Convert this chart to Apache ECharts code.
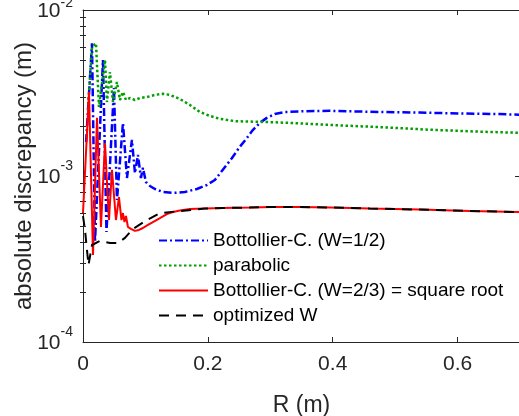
<!DOCTYPE html>
<html>
<head>
<meta charset="utf-8">
<script src="https://cdn.jsdelivr.net/npm/echarts@6/dist/echarts.min.js"></script>
<style>
html,body{margin:0;padding:0;background:#fff;}
#chart{width:519px;height:416px;}
</style>
</head>
<body>
<div id="chart"></div>
<script>
const seriesNames = ['Bottollier-C. (W=1/2)', 'parabolic', 'Bottollier-C. (W=2/3) = square root', 'optimized W'];

const rBlue = [0.005, 0.0144, 0.0192, 0.032, 0.0376, 0.0496, 0.0544, 0.064, 0.0704, 0.0784, 0.0832, 0.088, 0.0928, 0.096, 0.1008, 0.1072, 0.1152, 0.128, 0.144, 0.1632, 0.1824, 0.1984, 0.2112, 0.224, 0.2384, 0.2512, 0.2624, 0.272, 0.2832, 0.2944, 0.3072, 0.3232, 0.3472, 0.3952, 0.4752, 0.5392, 0.6032, 0.6672, 0.7];
const vBlue = [1.6e-3, 6.3e-3, 4.0e-4, 5.0e-3, 4.6e-4, 3.39e-3, 7.17e-4, 2.09e-3, 9.73e-4, 1.65e-3, 1.04e-3, 1.34e-3, 9.73e-4, 1.12e-3, 9.2e-4, 8.71e-4, 8.35e-4, 8.01e-4, 7.9e-4, 8.01e-4, 8.35e-4, 8.83e-4, 9.46e-4, 1.09e-3, 1.28e-3, 1.50e-3, 1.69e-3, 1.89e-3, 2.09e-3, 2.24e-3, 2.36e-3, 2.43e-3, 2.45e-3, 2.47e-3, 2.43e-3, 2.41e-3, 2.38e-3, 2.36e-3, 2.34e-3];

const rGreen = [0.008, 0.0144, 0.0208, 0.0256, 0.0352, 0.0384, 0.0432, 0.048, 0.0544, 0.0592, 0.064, 0.0688, 0.0752, 0.0832, 0.0912, 0.1024, 0.1152, 0.128, 0.1392, 0.1552, 0.1712, 0.1872, 0.2032, 0.2192, 0.2432, 0.2832, 0.3312, 0.3952, 0.4752, 0.5552, 0.6352, 0.7];
const vGreen = [2.5e-3, 6.0e-3, 6.3e-3, 2.61e-3, 5.0e-3, 2.79e-3, 4.23e-3, 2.79e-3, 3.68e-3, 2.87e-3, 3.21e-3, 2.87e-3, 2.95e-3, 2.87e-3, 2.95e-3, 2.99e-3, 3.08e-3, 3.13e-3, 3.08e-3, 2.91e-3, 2.68e-3, 2.43e-3, 2.30e-3, 2.21e-3, 2.14e-3, 2.12e-3, 2.09e-3, 2.03e-3, 1.97e-3, 1.90e-3, 1.85e-3, 1.82e-3];

const rRed = [0.0, 0.0096, 0.016, 0.0224, 0.0288, 0.0352, 0.0416, 0.0464, 0.0528, 0.0576, 0.0616, 0.064, 0.0664, 0.0688, 0.072, 0.0768, 0.0832, 0.0896, 0.096, 0.104, 0.112, 0.1232, 0.1344, 0.144, 0.1552, 0.1712, 0.1952, 0.224, 0.2672, 0.304, 0.3472, 0.3952, 0.4592, 0.5392, 0.6192, 0.7];
const vRed = [5.98e-4, 3.21e-3, 3.34e-4, 2.24e-3, 4.93e-4, 1.58e-3, 5.43e-4, 1.09e-3, 5.43e-4, 7.47e-4, 5.43e-4, 5.98e-4, 5.28e-4, 5.74e-4, 4.93e-4, 4.80e-4, 4.67e-4, 4.73e-4, 4.86e-4, 5.07e-4, 5.28e-4, 5.58e-4, 5.90e-4, 6.07e-4, 6.19e-4, 6.33e-4, 6.37e-4, 6.42e-4, 6.46e-4, 6.51e-4, 6.51e-4, 6.46e-4, 6.37e-4, 6.28e-4, 6.15e-4, 6.07e-4];

const rBlack = [0.0, 0.0032, 0.0064, 0.0088, 0.0144, 0.0272, 0.0432, 0.056, 0.0672, 0.08, 0.1024, 0.1232, 0.1552, 0.1952, 0.224, 0.2672, 0.304, 0.3472, 0.3952, 0.4592, 0.5392, 0.6192, 0.7];
const vBlack = [5.74e-4, 4.73e-4, 3.58e-4, 2.91e-4, 3.84e-4, 4.06e-4, 3.95e-4, 3.95e-4, 4.24e-4, 4.80e-4, 5.43e-4, 5.98e-4, 6.15e-4, 6.37e-4, 6.42e-4, 6.46e-4, 6.51e-4, 6.51e-4, 6.46e-4, 6.37e-4, 6.28e-4, 6.15e-4, 6.07e-4];

const xTicks = [0, 0.2, 0.4, 0.6];
const yTicks = [1e-4, 1e-3, 1e-2];
const yMinorTicks = [2e-4, 3e-4, 4e-4, 5e-4, 6e-4, 7e-4, 8e-4, 9e-4, 2e-3, 3e-3, 4e-3, 5e-3, 6e-3, 7e-3, 8e-3, 9e-3];

const zip = (xs, ys) => xs.map((x, i) => [x, ys[i]]);

const FONT = "'Liberation Sans', Arial, sans-serif";
const AX = '#262626';

const chart = echarts.init(document.getElementById('chart'), null, {renderer: 'canvas'});

const xBase = {
  type: 'value', min: 0, max: 0.7, gridIndex: 0,
  axisLine: {show: true, onZero: false, lineStyle: {color: AX, width: 1}},
  axisTick: {show: true, inside: true, length: 5, customValues: xTicks, lineStyle: {color: AX}},
  splitLine: {show: false}
};
const yBase = {
  type: 'log', logBase: 10, min: 1e-4, max: 1e-2, gridIndex: 0,
  axisLine: {show: true, onZero: false, lineStyle: {color: AX, width: 1}},
  axisTick: {show: true, inside: true, length: 5, customValues: yTicks, lineStyle: {color: AX}},
  splitLine: {show: false}
};

const yMax = yTicks[yTicks.length - 1];

chart.setOption({
  animation: false,
  textStyle: {fontFamily: FONT},
  grid: {left: 83, top: 10, width: 437, height: 332, containLabel: false, outerBoundsMode: 'none'},
  xAxis: [
    Object.assign({}, xBase, {
      position: 'bottom',
      name: 'R (m)', nameLocation: 'middle', nameGap: 52,
      nameTextStyle: {fontSize: 23, color: AX, fontFamily: FONT},
      axisLabel: {show: true, customValues: xTicks, margin: 12, fontSize: 21, color: AX, fontFamily: FONT,
        formatter: v => String(v)}
    }),
    Object.assign({}, xBase, {position: 'top', axisLabel: {show: false}})
  ],
  yAxis: [
    Object.assign({}, yBase, {
      position: 'left',
      name: 'absolute discrepancy (m)', nameLocation: 'middle', nameGap: 47, nameRotate: 90,
      nameMoveOverlap: false,
      nameTextStyle: {fontSize: 24, color: AX, fontFamily: FONT},
      axisLabel: {show: true, customValues: yTicks, margin: 10, color: AX, fontFamily: FONT, padding: [2, 0, 0, 0],
        formatter: v => {
          const e = Math.round(Math.log10(v));
          return v === yMax ? '{b|10}{st|' + e + '}' : '{b|10}{s|' + e + '}';
        },
        rich: {
          b: {fontSize: 21, lineHeight: 21, color: AX, fontFamily: FONT, verticalAlign: 'bottom'},
          s: {fontSize: 14, lineHeight: 14, color: AX, fontFamily: FONT, verticalAlign: 'bottom', padding: [0, 0, 14, 0]},
          st: {fontSize: 14, lineHeight: 14, color: AX, fontFamily: FONT, verticalAlign: 'bottom', padding: [9, 0, 11, 0]}
        }}
    }),
    Object.assign({}, yBase, {position: 'right', axisLabel: {show: false}}),
    Object.assign({}, yBase, {position: 'left', axisLine: {show: false},
      axisTick: {show: true, inside: true, length: 3, customValues: yMinorTicks, lineStyle: {color: AX}},
      axisLabel: {show: false}}),
    Object.assign({}, yBase, {position: 'right', axisLine: {show: false},
      axisTick: {show: true, inside: true, length: 3, customValues: yMinorTicks, lineStyle: {color: AX}},
      axisLabel: {show: false}})
  ],
  legend: {
    orient: 'vertical', left: 153, top: 226,
    itemWidth: 49, itemHeight: 14, itemGap: 6,
    itemStyle: {opacity: 0},
    textStyle: {fontSize: 19, lineHeight: 19, color: '#000', fontFamily: FONT},
    data: seriesNames
  },
  series: [
    {name: seriesNames[0], type: 'line', symbol: 'none', data: zip(rBlue, vBlue), z: 2,
      lineStyle: {color: '#0000ff', width: 2.5, type: [8, 3, 2, 3]}, itemStyle: {color: '#0000ff'}},
    {name: seriesNames[1], type: 'line', symbol: 'none', data: zip(rGreen, vGreen), z: 3,
      lineStyle: {color: '#00a000', width: 2.5, type: [2.5, 2.5]}, itemStyle: {color: '#00a000'}},
    {name: seriesNames[2], type: 'line', symbol: 'none', data: zip(rRed, vRed), z: 4,
      lineStyle: {color: '#ff0000', width: 2, type: 'solid'}, itemStyle: {color: '#ff0000'}},
    {name: seriesNames[3], type: 'line', symbol: 'none', data: zip(rBlack, vBlack), z: 5,
      lineStyle: {color: '#000000', width: 2, type: [10, 7]}, itemStyle: {color: '#000000'}}
  ]
});
</script>
</body>
</html>
